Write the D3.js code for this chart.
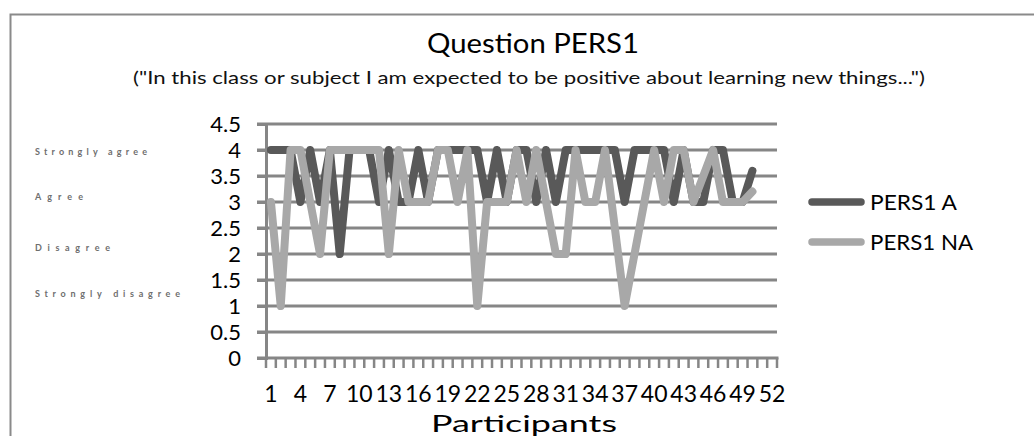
<!DOCTYPE html>
<html>
<head>
<meta charset="utf-8">
<script src="https://cdn.jsdelivr.net/npm/d3@7"></script>
<style>
  body { margin: 0; background: #fff; }
  text { font-family: Lato, "Open Sans", sans-serif; fill: #000; }
</style>
</head>
<body>
<script>
//chart data
var participants = d3.range(1, 53);           //x categories 1..52
var tickLabels = participants.filter(function(d){ return (d - 1) % 3 === 0; });
var yTicks = [0, 0.5, 1, 1.5, 2, 2.5, 3, 3.5, 4, 4.5];
var scaleLabels = ["Strongly agree", "Agree", "Disagree", "Strongly disagree"];
var seriesNames = ["PERS1 A", "PERS1 NA"];

var pers1A = [4, 4, 4, 3, 4, 3, 4, 2, 4, 4,
              4, 3, 4, 3, 3, 4, 3, 4, 4, 4,
              4, 4, 3, 4, 3, 4, 4, 3, 4, 3,
              4, 4, 4, 4, 4, 4, 3, 4, 4, 4,
              4, 3, 4, 3, 3, 4, 4, 3, 3, 3.6];
//null = empty cell, line joins over it
var pers1NA = [3, 1, 4, 4, 3, 2, 4, 4, 4, 4,
               4, 4, 2, 4, 3, 3, 3, 4, 4, 3,
               4, 1, 3, 3, 3, 4, 3, 4, 3, 2,
               2, 4, 3, 3, 4, null, 1, null, null, 4,
               3, 4, 4, 3, null, 4, 3, 3, 3, 3.2];

window.onload = drawChart();

function drawChart() {
    var width = 1034, height = 436;
    var plot = {left: 266, right: 777, top: 124, bottom: 358};

    var svg = d3.select("body").append("svg")
        .attr("width", width)
        .attr("height", height);

    //chart frame, runs off the right and bottom edge
    svg.append("rect")
        .attr("x", 10.5).attr("y", 14.5)
        .attr("width", 1040).attr("height", 440)
        .attr("fill", "none")
        .attr("stroke", "#8a8a8a")
        .attr("stroke-width", 2);

    var x = d3.scaleBand()
        .domain(participants)
        .range([plot.left, plot.right]);

    var y = d3.scaleLinear()
        .domain([0, 4.5])
        .range([plot.bottom, plot.top]);

    //titles
    svg.append("text")
        .attr("x", 533).attr("y", 53)
        .attr("text-anchor", "middle")
        .attr("font-size", 27)
        .attr("textLength", 212)
        .attr("lengthAdjust", "spacingAndGlyphs")
        .text("Question PERS1");

    svg.append("text")
        .attr("x", 529).attr("y", 84)
        .attr("text-anchor", "middle")
        .attr("font-size", 18)
        .attr("textLength", 792)
        .attr("lengthAdjust", "spacingAndGlyphs")
        .style("fill", "#111")
        .text("(\"In this class or subject I am expected to be positive about learning new things...\")");

    //horizontal gridlines with the little ticks left of the axis
    svg.append("g").selectAll("line")
        .data(yTicks.filter(function(d){ return d > 0; }))
        .enter().append("line")
        .attr("x1", plot.left - 9).attr("x2", plot.right)
        .attr("y1", function(d){ return y(d); })
        .attr("y2", function(d){ return y(d); })
        .attr("stroke", "#868686")
        .attr("stroke-width", 3);

    //y axis
    var yAxis = svg.append("g")
        .attr("transform", "translate(" + plot.left + ",0)")
        .call(d3.axisLeft(y).tickValues(yTicks).tickSize(9).tickPadding(16)
            .tickFormat(function(d){ return d; }));
    yAxis.select(".domain").attr("stroke", "#868686").attr("stroke-width", 3);
    yAxis.selectAll(".tick line").attr("stroke", "#868686").attr("stroke-width", 3);
    yAxis.selectAll(".tick text").attr("font-size", 22).attr("font-family", "Lato");

    //x axis: ticks between categories, labels every third
    var xAxisG = svg.append("g")
        .attr("transform", "translate(0," + plot.bottom + ")");
    xAxisG.append("line")
        .attr("x1", plot.left - 9).attr("x2", plot.right + 1.5)
        .attr("stroke", "#868686").attr("stroke-width", 3);
    var bounds = participants.map(function(d){ return x(d); }).concat([plot.right]);
    xAxisG.selectAll(".xtick")
        .data(bounds)
        .enter().append("line")
        .attr("class", "xtick")
        .attr("x1", function(d){ return d; }).attr("x2", function(d){ return d; })
        .attr("y1", 0).attr("y2", 10)
        .attr("stroke", "#868686").attr("stroke-width", 2.5);
    xAxisG.selectAll(".xlabel")
        .data(tickLabels)
        .enter().append("text")
        .attr("class", "xlabel")
        .attr("x", function(d){ return x(d) + x.bandwidth() / 2; })
        .attr("y", 44)
        .attr("text-anchor", "middle")
        .attr("font-size", 23)
        .text(function(d){ return d; });

    svg.append("text")
        .attr("x", 524).attr("y", 432)
        .attr("text-anchor", "middle")
        .attr("font-size", 24)
        .attr("textLength", 186)
        .attr("lengthAdjust", "spacingAndGlyphs")
        .text("Participants");

    //faint scale labels at the far left
    var scaleY = [152, 197, 248, 294];
    var scaleW = [112, 48, 75, 145];
    svg.append("g").selectAll("text")
        .data(scaleLabels)
        .enter().append("text")
        .attr("x", 35)
        .attr("y", function(d, i){ return scaleY[i] + 3; })
        .attr("font-size", 9)
        .attr("font-weight", "bold")
        .attr("textLength", function(d, i){ return scaleW[i]; })
        .attr("lengthAdjust", "spacing")
        .style("fill", "#6e6e6e")
        .text(function(d){ return d; });

    //lines
    var colors = ["#595959", "#a8a8a8"];
    var series = [pers1A, pers1NA];
    var line = d3.line()
        .x(function(d){ return x(d.p) + x.bandwidth() / 2; })
        .y(function(d){ return y(d.v); });

    series.forEach(function(vals, k) {
        var pts = vals.map(function(v, i){ return {p: participants[i], v: v}; })
            .filter(function(d){ return d.v !== null; });
        svg.append("path")
            .datum(pts)
            .attr("d", line)
            .attr("fill", "none")
            .attr("stroke", colors[k])
            .attr("stroke-width", 8)
            .attr("stroke-linejoin", "round")
            .attr("stroke-linecap", "round");
    });

    //legend
    var legend = svg.append("g").selectAll("g")
        .data(seriesNames)
        .enter().append("g")
        .attr("transform", function(d, i){ return "translate(809," + (202 + i * 40) + ")"; });
    legend.append("line")
        .attr("x1", 3).attr("x2", 52)
        .attr("stroke", function(d, i){ return colors[i]; })
        .attr("stroke-width", 7.5)
        .attr("stroke-linecap", "round");
    legend.append("text")
        .attr("x", 61).attr("y", 8)
        .attr("font-size", 22)
        .attr("textLength", function(d, i){ return i === 0 ? 87 : 103; })
        .attr("lengthAdjust", "spacingAndGlyphs")
        .text(function(d){ return d; });
}
</script>
</body>
</html>
